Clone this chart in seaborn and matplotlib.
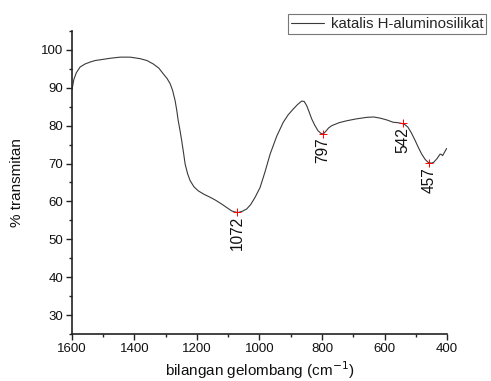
import numpy as np
import pandas as pd
import matplotlib
matplotlib.use("Agg")
import matplotlib.pyplot as plt
import seaborn as sns
from matplotlib.ticker import MultipleLocator

# Spectrum
wavenumber = [1600, 1594, 1586, 1574, 1558, 1542, 1526, 1510, 1478, 1446, 1414, 1382,
              1360, 1340, 1322, 1308, 1296, 1286, 1278, 1270, 1265, 1260, 1254, 1249,
              1243, 1238, 1230, 1222, 1210, 1196, 1178, 1158, 1140, 1121, 1105, 1089,
              1078, 1068, 1055, 1041, 1028, 1014, 998, 982, 966, 945, 924, 908, 892,
              878, 865, 857, 849, 841, 833, 823, 813, 804, 796, 788, 779, 769, 745,
              721, 690, 657, 635, 614, 592, 572, 558, 545, 535, 525, 514, 502, 492,
              481, 470, 460, 451, 443, 432, 422, 418, 414, 408, 401]
transmittance = [89.5, 92.2, 94.0, 95.5, 96.3, 96.8, 97.2, 97.4, 97.8, 98.1, 98.1, 97.7,
                 97.2, 96.3, 95.2, 93.7, 92.5, 91.1, 89.3, 86.6, 84.2, 81.3, 78.6, 76.1,
                 72.8, 69.9, 67.3, 65.5, 63.9, 62.8, 61.9, 61.1, 60.3, 59.3, 58.4, 57.5,
                 57.2, 57.1, 57.4, 58.0, 59.2, 61.1, 63.7, 67.9, 72.5, 77.2, 80.9, 82.9, 84.4,
                 85.6, 86.5, 86.4, 85.3, 83.6, 81.8, 80.1, 78.7, 78.0, 77.8, 78.5, 79.4, 80.0, 80.8,
                 81.3, 81.8, 82.2, 82.3, 82.0, 81.5, 80.9, 80.8, 80.6, 80.3, 79.6, 78.1, 76.1, 74.3,
                 72.5, 71.1, 70.3, 70.1, 70.3, 71.3, 72.5, 72.4, 72.1, 73.0, 74.0]

# Labelled peaks
peak_wn = [1072, 797, 542, 457]
peak_t = [57.3, 77.9, 80.8, 70.2]
peak_labels = ["1072", "797", "542", "457"]

series_name = "katalis H-aluminosilikat"

sns.set_style("ticks")
plt.rcParams["font.family"] = ["Liberation Sans", "DejaVu Sans"]

df = pd.DataFrame({"wn": wavenumber, "T": transmittance, "s": series_name})
pk = pd.DataFrame({"wn": peak_wn, "T": peak_t})

fig = plt.figure(figsize=(4.91, 3.81), dpi=100)
ax = fig.add_axes([0.1466, 0.1234, 0.7638, 0.7952])

sns.lineplot(data=df, x="wn", y="T", hue="s", palette=["#3a3a3a"], lw=0.8,
             sort=False, ax=ax, legend=True)
sns.scatterplot(data=pk, x="wn", y="T", marker="+", color="red", s=40,
                linewidth=0.7, ax=ax, legend=False, zorder=3)

for w, t, lab in zip(peak_wn, peak_t, peak_labels):
    ax.annotate(lab, (w, t), xytext=(0, -3), textcoords="offset points",
                rotation=90, ha="center", va="top", fontsize=11.2, color="#111111")

ax.set_xlim(1600, 400)
ax.set_ylim(25, 105)
ax.xaxis.set_major_locator(MultipleLocator(200))
ax.xaxis.set_minor_locator(MultipleLocator(100))
ax.set_yticks([30, 40, 50, 60, 70, 80, 90, 100])
ax.yaxis.set_minor_locator(MultipleLocator(5))
ax.tick_params(axis="both", which="major", length=4, width=1, labelsize=9.5,
               direction="out", color="#222222", labelcolor="#111111", pad=2.5)
ax.tick_params(axis="both", which="minor", length=2.5, width=1, direction="out", color="#222222")
for sp in ["top", "right"]:
    ax.spines[sp].set_visible(False)
for sp in ["left", "bottom"]:
    ax.spines[sp].set_linewidth(1.2)
    ax.spines[sp].set_color("#222222")

ax.set_xlabel("bilangan gelombang (cm$^{-1}$)", fontsize=11, labelpad=3, color="#111111")
ax.set_ylabel("% transmitan", fontsize=11, labelpad=12, color="#111111")

leg = ax.legend(loc="upper left", bbox_to_anchor=(288 / 491, 1 - 14 / 381),
                bbox_transform=fig.transFigure, frameon=True, fancybox=False,
                fontsize=10.8, handlelength=2.2, borderpad=0.2, handletextpad=0.45,
                borderaxespad=0)
leg.get_frame().set_edgecolor("#555555")
leg.get_frame().set_linewidth(0.8)

fig.savefig("out.png", dpi=100)
